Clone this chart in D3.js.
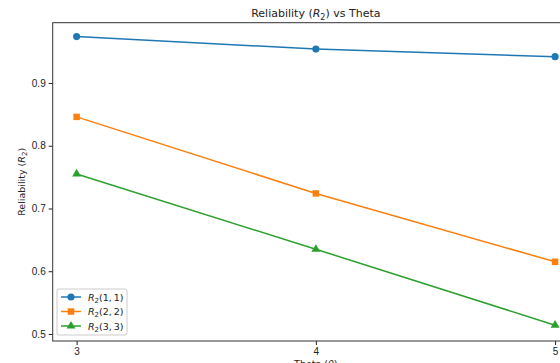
<!DOCTYPE html>
<meta charset="utf-8">
<style>
body { margin: 0; overflow: hidden; background: #fff; }
svg { font-family: "DejaVu Sans", sans-serif; display: block; }
.tick text { font-size: 10px; fill: #222; }
.tick line { stroke: #222; }
.domain { stroke: none; }
</style>
<svg width="560" height="363"></svg>
<script src="https://d3js.org/d3.v7.min.js"></script>
<script>
// data
var theta = [3, 4, 5];
var r11 = [0.974, 0.954, 0.942];
var r22 = [0.846, 0.724, 0.615];
var r33 = [0.755, 0.635, 0.514];
var xTicks = [3, 4, 5];
var yTicks = [0.5, 0.6, 0.7, 0.8, 0.9];

var series = [
  {name: "1, 1", values: r11, color: "#1f77b4", marker: d3.symbolCircle},
  {name: "2, 2", values: r22, color: "#ff7f0e", marker: d3.symbolSquare},
  {name: "3, 3", values: r33, color: "#2ca02c", marker: d3.symbolTriangle}
];

var svg = d3.select("svg"),
    pLeft = 52.7, pRight = 579, pTop = 22.7, pBottom = 341;

// plot runs past the right edge of the window, like the reference crop
var x = d3.scaleLinear().domain([2.9, 5.1]).range([pLeft, pRight]);
var y = d3.scaleLinear().domain([0.4888, 0.9961]).range([pBottom, pTop]);

//axes
svg.append("g")
    .attr("transform", "translate(0," + pBottom + ")")
    .call(d3.axisBottom(x).tickValues(xTicks).tickFormat(d3.format("d")).tickSize(4).tickPadding(3));
svg.append("g")
    .attr("transform", "translate(" + pLeft + ",0)")
    .call(d3.axisLeft(y).tickValues(yTicks).tickFormat(d3.format(".1f")).tickSize(4).tickPadding(3));

//frame
svg.append("rect")
    .attr("x", pLeft).attr("y", pTop)
    .attr("width", pRight - pLeft).attr("height", pBottom - pTop)
    .attr("fill", "none").attr("stroke", "#333").attr("stroke-width", 1);

//lines and markers
var line = d3.line()
    .x(function(d, i) { return x(theta[i]); })
    .y(function(d) { return y(d); });

function markerSize(m) {
  if (m === d3.symbolTriangle) return 34;
  if (m === d3.symbolSquare) return 42;
  return 40;
}

series.forEach(function(s) {
  svg.append("path")
      .datum(s.values)
      .attr("d", line)
      .attr("fill", "none")
      .attr("stroke", s.color)
      .attr("stroke-width", 1.5);
  svg.selectAll(null)
      .data(s.values)
    .enter().append("path")
      .attr("transform", function(d, i) { return "translate(" + x(theta[i]) + "," + y(d) + ")"; })
      .attr("d", d3.symbol().type(s.marker).size(markerSize(s.marker)))
      .attr("fill", s.color);
});

//title
var title = svg.append("text")
    .attr("x", (pLeft + pRight) / 2).attr("y", 17)
    .attr("text-anchor", "middle")
    .attr("font-size", 11).attr("fill", "#222");
title.append("tspan").text("Reliability (");
title.append("tspan").attr("font-style", "italic").text("R");
title.append("tspan").attr("font-size", 8).attr("dy", 2.5).text("2");
title.append("tspan").attr("dy", -2.5).text(") vs Theta");

//axis labels
var ylab = svg.append("text")
    .attr("transform", "translate(25," + ((pTop + pBottom) / 2) + ") rotate(-90)")
    .attr("text-anchor", "middle")
    .attr("font-size", 9.5).attr("fill", "#222");
ylab.append("tspan").text("Reliability (");
ylab.append("tspan").attr("font-style", "italic").text("R");
ylab.append("tspan").attr("font-size", 7).attr("dy", 2).text("2");
ylab.append("tspan").attr("dy", -2).text(")");

var xlab = svg.append("text")
    .attr("x", x(4)).attr("y", 366.5)
    .attr("text-anchor", "middle")
    .attr("font-size", 9.5).attr("fill", "#222");
xlab.append("tspan").text("Theta (");
xlab.append("tspan").attr("font-style", "italic").text("θ");
xlab.append("tspan").text(")");

//legend
var legend = svg.append("g").attr("transform", "translate(57,289)");
legend.append("rect")
    .attr("width", 70).attr("height", 46).attr("rx", 2)
    .attr("fill", "#fff").attr("fill-opacity", 0.8)
    .attr("stroke", "#ccc");
series.forEach(function(s, i) {
  var row = legend.append("g").attr("transform", "translate(0," + (8 + i * 14.5) + ")");
  row.append("line").attr("x1", 4).attr("x2", 24)
      .attr("stroke", s.color).attr("stroke-width", 1.5);
  row.append("path").attr("transform", "translate(14,0)")
      .attr("d", d3.symbol().type(s.marker).size(markerSize(s.marker)))
      .attr("fill", s.color);
  var t = row.append("text").attr("x", 31).attr("y", 3.5)
      .attr("font-size", 9.5).attr("fill", "#222");
  t.append("tspan").attr("font-style", "italic").text("R");
  t.append("tspan").attr("font-size", 7).attr("dy", 2).text("2");
  t.append("tspan").attr("dy", -2).text("(" + s.name.replace(", ", ",\u2009") + ")");
});
</script>
